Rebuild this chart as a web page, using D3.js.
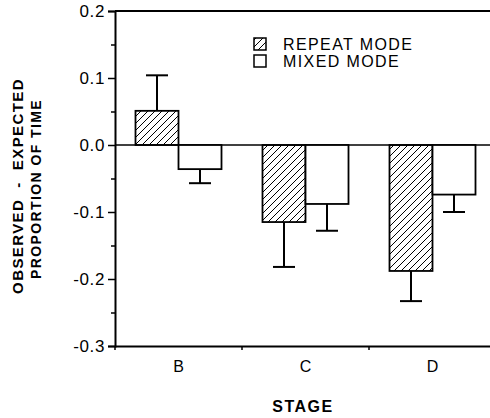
<!DOCTYPE html>
<html>
<head>
<meta charset="utf-8">
<script src="https://cdn.jsdelivr.net/npm/d3@7"></script>
<style>
  body { margin: 0; background: #fff; }
  svg { display: block; font-family: "Liberation Sans", Arial, Helvetica, sans-serif; }
</style>
</head>
<body>
<svg id="chart" width="490" height="418"></svg>
<script>
const stages = ["B", "C", "D"];
const seriesNames = ["REPEAT MODE", "MIXED MODE"];
const repeatMean = [0.051, -0.115, -0.188];
const repeatErr = [0.053, 0.067, 0.045];
const mixedMean = [-0.036, -0.088, -0.074];
const mixedErr = [0.021, 0.040, 0.026];
const yTicks = [-0.3, -0.2, -0.1, 0.0, 0.1, 0.2];
const yMinorTicks = [-0.25, -0.15, -0.05, 0.05, 0.15];

const svg = d3.select("#chart");
const mLeft = 115, mRight = 496, mTop = 11, mBottom = 346;

const x = d3.scaleBand().domain(stages).range([mLeft, mRight]);
const y = d3.scaleLinear().domain([-0.3, 0.2]).range([mBottom, mTop]);
const barW = 43;

// hatch pattern
const defs = svg.append("defs");
const pat = defs.append("pattern")
  .attr("id", "hatch").attr("patternUnits", "userSpaceOnUse")
  .attr("width", 7).attr("height", 7);
pat.append("path")
  .attr("d", "M-1,1 L1,-1 M0,7 L7,0 M6,8 L8,6")
  .attr("stroke", "#000").attr("stroke-width", 1).attr("fill", "none");

const series = [
  { name: seriesNames[0], mean: repeatMean, err: repeatErr, fill: "url(#hatch)", off: -barW },
  { name: seriesNames[1], mean: mixedMean, err: mixedErr, fill: "#fff", off: 0 }
];

// zero line
svg.append("line")
  .attr("x1", mLeft).attr("x2", 490)
  .attr("y1", y(0)).attr("y2", y(0))
  .attr("stroke", "#000").attr("stroke-width", 1.5);

// bars + error bars
series.forEach(s => {
  const g = svg.append("g");
  stages.forEach((st, i) => {
    const v = s.mean[i], e = s.err[i];
    const x0 = x(st) + x.bandwidth() / 2 + s.off;
    const cx = x0 + barW / 2;
    const tipV = v >= 0 ? v + e : v - e;
    g.append("line")
      .attr("x1", cx).attr("x2", cx)
      .attr("y1", y(v)).attr("y2", y(tipV))
      .attr("stroke", "#000").attr("stroke-width", 2);
    g.append("line")
      .attr("x1", cx - 11).attr("x2", cx + 11)
      .attr("y1", y(tipV)).attr("y2", y(tipV))
      .attr("stroke", "#000").attr("stroke-width", 2);
    g.append("rect")
      .attr("x", x0).attr("width", barW)
      .attr("y", y(Math.max(0, v)))
      .attr("height", Math.abs(y(v) - y(0)))
      .attr("fill", s.fill)
      .attr("stroke", "#000").attr("stroke-width", 1.8);
  });
});

// frame: top line
svg.append("line").attr("x1", mLeft).attr("x2", 490).attr("y1", mTop).attr("y2", mTop)
  .attr("stroke", "#000").attr("stroke-width", 2);

// y axis
const yAxis = svg.append("g").attr("transform", `translate(${mLeft},0)`)
  .call(d3.axisLeft(y).tickValues(yTicks).tickFormat(d3.format(".1f")).tickSize(7).tickPadding(3));
yAxis.select(".domain").attr("stroke-width", 2);
yAxis.selectAll(".tick line").attr("stroke-width", 1.5);
yAxis.selectAll(".tick text")
  .attr("font-size", 17).attr("letter-spacing", "0.6px")
  .attr("font-family", "Liberation Sans, Arial, sans-serif").attr("fill", "#000")
  .text(d => d3.format(".1f")(d).replace("−", "-"));
svg.append("g").attr("transform", `translate(${mLeft},0)`)
  .call(d3.axisLeft(y).tickValues(yMinorTicks).tickSize(4).tickFormat(""))
  .call(g => g.select(".domain").remove())
  .selectAll(".tick line").attr("stroke-width", 1.5);

// x axis
const xAxis = svg.append("g").attr("transform", `translate(0,${mBottom})`)
  .call(d3.axisBottom(x).tickSize(0).tickPadding(15));
xAxis.select(".domain").attr("d", `M${mLeft},0.5H490`).attr("stroke-width", 2);
xAxis.selectAll(".tick text")
  .attr("font-size", 16).attr("font-family", "Liberation Sans, Arial, sans-serif").attr("fill", "#000");
// boundary ticks
svg.append("g").selectAll("line")
  .data(stages.map(s => x(s)))
  .join("line")
  .attr("x1", d => d).attr("x2", d => d)
  .attr("y1", mBottom).attr("y2", mBottom + 4)
  .attr("stroke", "#000").attr("stroke-width", 1.5);

// legend
const leg = svg.append("g");
series.forEach((s, i) => {
  leg.append("rect")
    .attr("x", 254).attr("y", 38 + i * 17).attr("width", 12).attr("height", 12)
    .attr("fill", s.fill).attr("stroke", "#000").attr("stroke-width", 1.5);
  leg.append("text")
    .attr("x", 283).attr("y", 50 + i * 17)
    .attr("font-size", 16).attr("letter-spacing", "1.4px")
    .text(s.name);
});

// axis titles
svg.append("text")
  .attr("x", 303).attr("y", 412)
  .attr("text-anchor", "middle")
  .attr("font-size", 16).attr("font-weight", "bold").attr("letter-spacing", "1.5px")
  .text("STAGE");

svg.append("text")
  .attr("transform", "translate(23,186) rotate(-90)")
  .attr("text-anchor", "middle")
  .attr("font-size", 15).attr("font-weight", "bold").attr("letter-spacing", "1.4px")
  .style("white-space", "pre")
  .text("OBSERVED  -  EXPECTED");
svg.append("text")
  .attr("transform", "translate(41,189) rotate(-90)")
  .attr("text-anchor", "middle")
  .attr("font-size", 14).attr("font-weight", "bold").attr("letter-spacing", "1.4px")
  .text("PROPORTION OF TIME");
</script>
</body>
</html>
